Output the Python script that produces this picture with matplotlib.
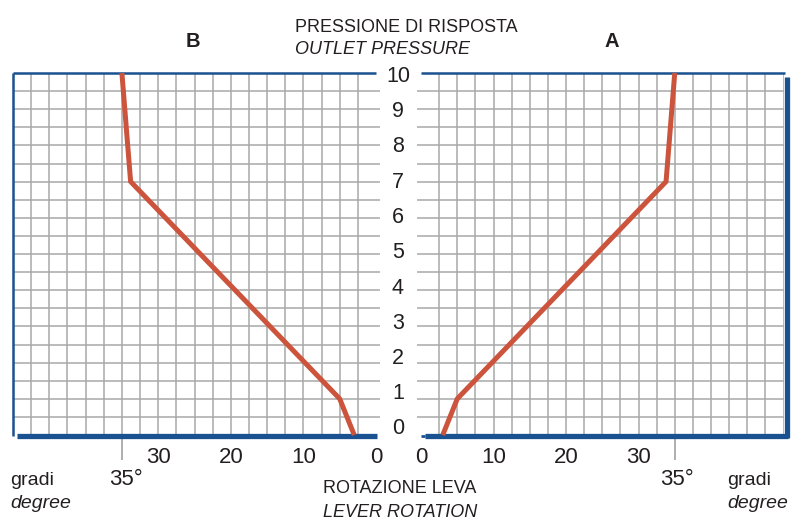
import matplotlib
matplotlib.use("Agg")
import matplotlib.pyplot as plt
import numpy as np

# ---- data ----
pressure = [0, 1, 7, 10]            # outlet pressure (bar)
rot_B = [3, 5, 33.8, 35]            # lever rotation, side B (degrees)
rot_A = [3, 5, 33.8, 35]            # lever rotation, side A (degrees)
x_ticks = [0, 10, 20, 30]
x_tick_labels = ["0", "10", "20", "30"]
y_ticks = list(range(0, 11))
y_tick_labels = [str(v) for v in y_ticks]
mark_deg = 35
mark_label = "35°"

W, H = 792, 523
fig = plt.figure(figsize=(W / 100, H / 100), dpi=100)

RED = "#CC543C"
BLUE = "#1A5190"
GRID = "#A8A8A8"
TXT = "#231F20"
NARROW = ["Liberation Sans Narrow", "Liberation Sans", "DejaVu Sans"]
REG = ["Liberation Sans", "DejaVu Sans"]

def fx(px):
    return px / W

def fy(py):
    return 1 - py / H

y0_px, y10_px = 435, 73
axL = fig.add_axes([fx(13), fy(y0_px), (376 - 13) / W, (y0_px - y10_px) / H])
axR = fig.add_axes([fx(421), fy(y0_px), 362.5 / W, (y0_px - y10_px) / H])
axL.set_xlim(50, 0)
axR.set_xlim(0, 50)
for ax in (axL, axR):
    ax.set_ylim(0, 10)
    ax.axis("off")

gx = np.arange(2.5, 50, 2.5)
gy = np.arange(0.5, 10, 0.5)

# left panel (B)
axL.vlines(gx, 0, 10, colors=GRID, lw=1.1, zorder=1)
axL.hlines(gy, 50, -0.6, colors=GRID, lw=1.1, zorder=1, clip_on=False)
axL.plot([50, 0], [10, 10], color=BLUE, lw=1.8, zorder=3, clip_on=False, solid_capstyle="butt")
axL.plot([50, 50], [10, -0.03], color=BLUE, lw=1.8, zorder=3, clip_on=False, solid_capstyle="butt")
axL.plot([49.45, -0.1], [-0.02, -0.02], color=BLUE, lw=3.8, zorder=3, clip_on=False, solid_capstyle="butt")
axL.plot(rot_B, pressure, color=RED, lw=3.6, zorder=4, clip_on=False, solid_capstyle="butt")
axL.vlines([mark_deg], -0.07, -0.7, colors=GRID, lw=1.3, clip_on=False)

# right panel (A)
axR.vlines(gx, 0, 10, colors=GRID, lw=1.1, zorder=1)
axR.vlines([50], 0, 10, colors=GRID, lw=1.1, zorder=1)
axR.hlines(gy, -0.55, 50, colors=GRID, lw=1.1, zorder=1, clip_on=False)
axR.plot([0, 50.2], [10, 10], color=BLUE, lw=1.8, zorder=3, clip_on=False, solid_capstyle="butt")
axR.plot([50.45, 50.45], [9.9, -0.08], color=BLUE, lw=3.8, zorder=3, clip_on=False, solid_capstyle="butt")
axR.plot([0.5, 50.6], [-0.02, -0.02], color=BLUE, lw=3.8, zorder=3, clip_on=False, solid_capstyle="butt")
axR.plot([-0.05, 0.5], [-0.02, -0.02], color=BLUE, lw=2.0, zorder=3, clip_on=False, solid_capstyle="butt")
axR.plot(rot_A, pressure, color=RED, lw=3.6, zorder=4, clip_on=False, solid_capstyle="butt")
axR.vlines([mark_deg], -0.07, -0.7, colors=GRID, lw=1.3, clip_on=False)

# x tick labels
for ax in (axL, axR):
    for v, lab in zip(x_ticks, x_tick_labels):
        ax.text(v, -0.78, lab, ha="center", va="baseline", fontsize=16,
                family=REG, color=TXT, clip_on=False)
axL.text(mark_deg + 1.8, -1.38, mark_label, ha="left", va="baseline",
         fontsize=16, family=REG, color=TXT, clip_on=False)
axR.text(mark_deg - 2.0, -1.38, mark_label, ha="left", va="baseline",
         fontsize=16, family=REG, color=TXT, clip_on=False)

# y tick labels (center column)
for v, lab in zip(y_ticks, y_tick_labels):
    yp = 429 - 35.25 * v
    fig.text(fx(398), fy(yp), lab, ha="center", va="center",
             fontsize=15.5, family=REG, color=TXT)

# titles
fig.text(fx(295), fy(32), "PRESSIONE DI RISPOSTA", ha="left", va="baseline",
         fontsize=13, family=NARROW, color=TXT)
fig.text(fx(295), fy(54), "OUTLET PRESSURE", ha="left", va="baseline",
         fontsize=13, family=NARROW, style="italic", color=TXT)
fig.text(fx(193), fy(47), "B", ha="center", va="baseline", fontsize=14.5,
         family=NARROW, weight="bold", color=TXT)
fig.text(fx(612), fy(47), "A", ha="center", va="baseline", fontsize=14.5,
         family=NARROW, weight="bold", color=TXT)
fig.text(fx(323), fy(493), "ROTAZIONE LEVA", ha="left", va="baseline",
         fontsize=13, family=NARROW, color=TXT)
fig.text(fx(323), fy(517), "LEVER ROTATION", ha="left", va="baseline",
         fontsize=13, family=NARROW, style="italic", color=TXT)
for xg in (10, 727):
    fig.text(fx(xg), fy(485), "gradi", ha="left", va="baseline",
             fontsize=14, family=NARROW, color=TXT)
    fig.text(fx(xg), fy(508), "degree", ha="left", va="baseline",
             fontsize=14, family=NARROW, style="italic", color=TXT)

fig.savefig("out.png", dpi=100)
